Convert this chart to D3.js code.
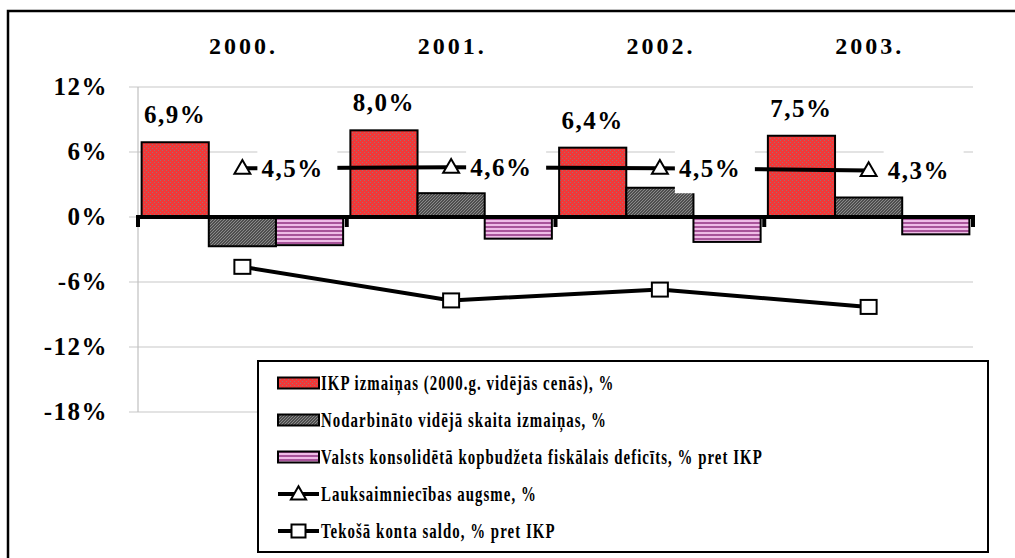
<!DOCTYPE html>
<html>
<head>
<meta charset="utf-8">
<script src="https://cdn.jsdelivr.net/npm/d3@7"></script>
<style>
  html, body { margin: 0; padding: 0; background: #fff; }
  svg { display: block; font-family: "Liberation Serif", "Times New Roman", serif; font-weight: bold; }
</style>
</head>
<body>
<div id="chart"></div>
<script>
// ── Data ────────────────────────────────────────────────────────────────
const years = ['2000.', '2001.', '2002.', '2003.']
const gdpGrowth = [6.9, 8.0, 6.4, 7.5]            // IKP izmaiņas
const employment = [-2.7, 2.2, 2.7, 1.8]          // Nodarbināto vidējā skaita izmaiņas
const fiscalDeficit = [-2.6, -2.0, -2.3, -1.6]    // fiskālais deficīts
const agriculture = [4.5, 4.6, 4.5, 4.3]          // Lauksaimniecības augsme
const currentAccount = [-4.6, -7.7, -6.7, -8.3]   // Tekošā konta saldo
const yTicks = [-18, -12, -6, 0, 6, 12]

const barSeries = [
  { key: 'gdp', label: 'IKP izmaiņas (2000.g. vidējās cenās), %', values: gdpGrowth, fill: 'url(#p-red)' },
  { key: 'emp', label: 'Nodarbināto vidējā skaita izmaiņas, %', values: employment, fill: 'url(#p-grey)' },
  { key: 'fis', label: 'Valsts konsolidētā kopbudžeta fiskālais deficīts, % pret IKP', values: fiscalDeficit, fill: 'url(#p-pink)' },
]
const lineSeries = [
  { key: 'agr', label: 'Lauksaimniecības augsme, %', values: agriculture, marker: 'tri' },
  { key: 'ca', label: 'Tekošā konta saldo, % pret IKP', values: currentAccount, marker: 'sq' },
]

const W = 1015, H = 558
const fmt = v => d3.format('.1f')(v).replace('.', ',') + '%'

const svg = d3.select('#chart').append('svg').attr('width', W).attr('height', H)

// ── Patterns ────────────────────────────────────────────────────────────
const defs = svg.append('defs')
const pRed = defs.append('pattern').attr('id', 'p-red').attr('patternUnits', 'userSpaceOnUse').attr('width', 4).attr('height', 4)
pRed.append('rect').attr('width', 4).attr('height', 4).attr('fill', '#f23838')
pRed.append('rect').attr('x', 0).attr('y', 0).attr('width', 1).attr('height', 1).attr('fill', '#a07070')
pRed.append('rect').attr('x', 2).attr('y', 2).attr('width', 1).attr('height', 1).attr('fill', '#a07070')

const pGrey = defs.append('pattern').attr('id', 'p-grey').attr('patternUnits', 'userSpaceOnUse').attr('width', 3).attr('height', 3)
pGrey.append('rect').attr('width', 3).attr('height', 3).attr('fill', '#4e4e4e')
pGrey.append('path').attr('d', 'M0,3 L3,0').attr('stroke', '#8a8a8a').attr('stroke-width', 1)

const pPink = defs.append('pattern').attr('id', 'p-pink').attr('patternUnits', 'userSpaceOnUse').attr('width', 4).attr('height', 4)
pPink.append('rect').attr('width', 4).attr('height', 4).attr('fill', '#eebce6')
pPink.append('rect').attr('y', 2).attr('width', 4).attr('height', 2).attr('fill', '#a8549a')

// ── Scales ──────────────────────────────────────────────────────────────
const y = d3.scaleLinear().domain([-18, 12]).range([412, 87])
const x0 = d3.scaleBand().domain(years).range([138, 973]).padding(0)
const x1 = d3.scaleBand().domain(barSeries.map(s => s.key)).range([0, x0.bandwidth()]).paddingInner(0).paddingOuter(0.054)
const cx = d => x0(d) + x0.bandwidth() / 2

// outer frame (runs off the right and bottom edge, as in the source)
svg.append('rect').attr('x', 8).attr('y', 11).attr('width', 1030).attr('height', 580)
  .attr('fill', 'none').attr('stroke', '#000').attr('stroke-width', 2.5)

// ── Grid + value axis ───────────────────────────────────────────────────
const grid = svg.append('g')
grid.selectAll('line').data(yTicks).join('line')
  .attr('x1', 129).attr('x2', 973)
  .attr('y1', d => y(d)).attr('y2', d => y(d))
  .attr('stroke', '#c8c8c8').attr('stroke-width', 1.2)
grid.append('line').attr('x1', 138).attr('x2', 138).attr('y1', y(12)).attr('y2', y(-18))
  .attr('stroke', '#c0c0c0').attr('stroke-width', 1.2)

svg.append('g').selectAll('text').data(yTicks).join('text')
  .attr('x', 108).attr('y', d => y(d) + 8)
  .attr('text-anchor', 'end').attr('font-size', 25).attr('letter-spacing', 1.5)
  .text(d => d + '%')

// year labels on top
svg.append('g').selectAll('text').data(years).join('text')
  .attr('x', d => cx(d) + 1).attr('y', 54)
  .attr('text-anchor', 'middle').attr('font-size', 24).attr('letter-spacing', 3)
  .text(d => d)

// ── Bars ────────────────────────────────────────────────────────────────
const bars = svg.append('g')
barSeries.forEach(s => {
  bars.append('g').selectAll('rect').data(years).join('rect')
    .attr('x', (d, i) => x0(d) + x1(s.key))
    .attr('width', x1.bandwidth())
    .attr('y', (d, i) => y(Math.max(0, s.values[i])))
    .attr('height', (d, i) => Math.abs(y(s.values[i]) - y(0)))
    .attr('fill', s.fill).attr('stroke', '#000').attr('stroke-width', 2)
})

// category axis at zero
const axis = svg.append('g')
axis.append('line').attr('x1', 136).attr('x2', 975).attr('y1', y(0)).attr('y2', y(0))
  .attr('stroke', '#000').attr('stroke-width', 4)
axis.selectAll('line.tick').data([...years.map(d => x0(d)), x0.range()[1]]).join('line')
  .attr('class', 'tick')
  .attr('x1', d => d).attr('x2', d => d).attr('y1', y(0)).attr('y2', y(0) + 10)
  .attr('stroke', '#000').attr('stroke-width', 4)

// ── Lines ───────────────────────────────────────────────────────────────
const line = d3.line().x(d => d[0]).y(d => d[1])
const lines = svg.append('g')
lineSeries.forEach(s => {
  const pts = years.map((d, i) => [cx(d), y(s.values[i])])
  lines.append('path').attr('d', line(pts)).attr('fill', 'none').attr('stroke', '#000').attr('stroke-width', 4)
})

// data labels for agriculture: white boxes hide line/grid underneath
const agrLabels = svg.append('g')
years.forEach((d, i) => {
  const px = cx(d), py = y(agriculture[i])
  agrLabels.append('rect').attr('x', px + 15).attr('y', py - 22).attr('width', 80).attr('height', 47).attr('fill', '#fff')
  agrLabels.append('text').attr('x', px + 19).attr('y', py + 9)
    .attr('font-size', 25).attr('letter-spacing', 1.5).text(fmt(agriculture[i]))
})

// markers
const marks = svg.append('g')
years.forEach((d, i) => {
  const tx = cx(d), ty = y(agriculture[i])
  marks.append('path').attr('transform', `translate(${tx},${ty + 1})`).attr('d', d3.symbol(d3.symbolTriangle, 110)())
    .attr('fill', '#fff').attr('stroke', '#000').attr('stroke-width', 2)
  const sy = y(currentAccount[i])
  marks.append('rect').attr('x', tx - 8).attr('y', sy - 7).attr('width', 16).attr('height', 14)
    .attr('fill', '#fff').attr('stroke', '#000').attr('stroke-width', 2)
})

// GDP labels
svg.append('g').selectAll('text').data(years).join('text')
  .attr('x', (d, i) => x0(d) + x1('gdp') + x1.bandwidth() / 2)
  .attr('y', (d, i) => y(gdpGrowth[i]) - 19)
  .attr('text-anchor', 'middle').attr('font-size', 25).attr('letter-spacing', 1.5)
  .text((d, i) => fmt(gdpGrowth[i]))

// ── Legend ──────────────────────────────────────────────────────────────
const leg = svg.append('g').attr('transform', 'translate(258,361)')
leg.append('rect').attr('width', 730).attr('height', 191).attr('fill', '#fff').attr('stroke', '#000').attr('stroke-width', 2)
const legItems = [...barSeries.map(s => ({ ...s, kind: 'bar' })), ...lineSeries.map(s => ({ ...s, kind: 'line' }))]
const textG = leg.append('g')
legItems.forEach((s, i) => {
  const ry = 22 + i * 37
  if (s.kind === 'bar') {
    leg.append('rect').attr('x', 20).attr('y', ry - 5.5).attr('width', 41).attr('height', 11)
      .attr('fill', s.fill).attr('stroke', '#000').attr('stroke-width', 2)
  } else {
    leg.append('line').attr('x1', 20).attr('x2', 61).attr('y1', ry).attr('y2', ry).attr('stroke', '#000').attr('stroke-width', 4)
    if (s.marker === 'tri') {
      leg.append('path').attr('transform', `translate(40.5,${ry + 1})`).attr('d', d3.symbol(d3.symbolTriangle, 100)())
        .attr('fill', '#fff').attr('stroke', '#000').attr('stroke-width', 2)
    } else {
      leg.append('rect').attr('x', 33.5).attr('y', ry - 6.5).attr('width', 14).attr('height', 13)
        .attr('fill', '#fff').attr('stroke', '#000').attr('stroke-width', 2)
    }
  }
  textG.append('text').attr('x', 0).attr('y', ry + 7).attr('font-size', 21).attr('letter-spacing', 1.5).text(s.label)
})
// squeeze legend text horizontally like the narrow source face
const widest = d3.max(textG.selectAll('text').nodes(), n => n.getComputedTextLength())
const sx = 442 / widest
textG.attr('transform', `translate(63,0) scale(${sx},1)`)
</script>
</body>
</html>
